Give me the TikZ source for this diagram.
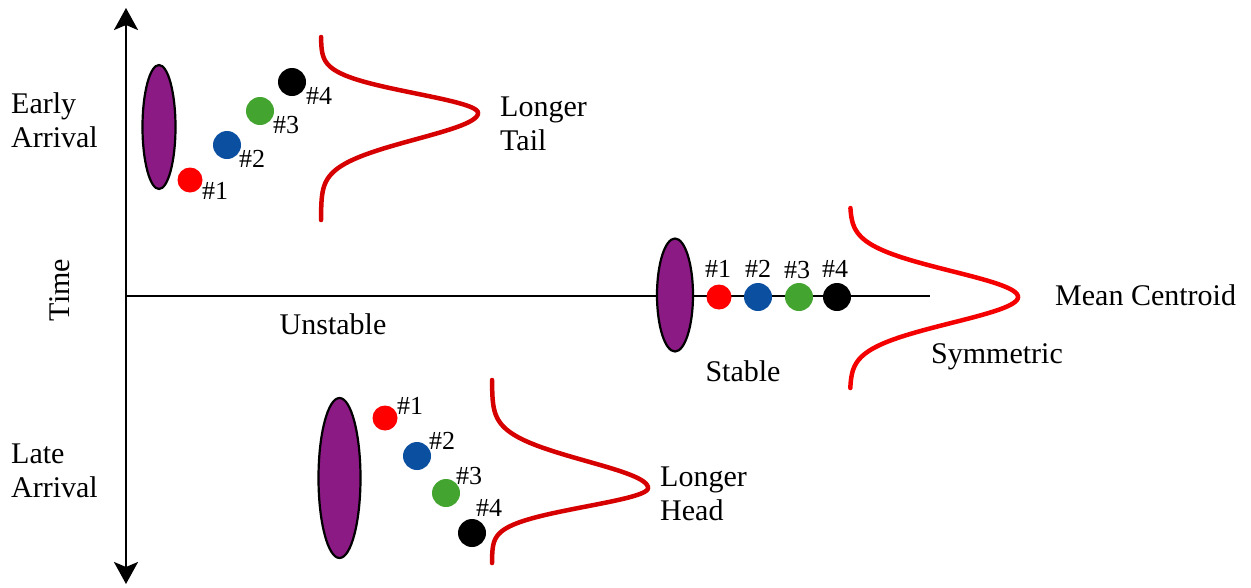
\documentclass[tikz,border=0pt]{standalone}
\usepackage{fontspec}
\setmainfont{Liberation Serif}
\usetikzlibrary{arrows.meta,shapes.geometric}
\definecolor{blobpurple}{HTML}{8B1A84}
\definecolor{dotred}{HTML}{FF0000}
\definecolor{dotblue}{HTML}{0B4FA0}
\definecolor{dotgreen}{HTML}{43A52F}
\definecolor{curvered}{HTML}{D60000}
\definecolor{curvebright}{HTML}{F50000}
\begin{document}
\begin{tikzpicture}[x=1pt,y=-1pt,
  lbl/.style={font=\fontsize{30}{34}\selectfont, align=left, inner sep=0pt},
  num/.style={font=\fontsize{26}{30}\selectfont, inner sep=0pt},
  dot/.style={circle, inner sep=0pt, minimum size=28pt, fill=#1},
  blob/.style={ellipse, draw=black, line width=2.2pt, fill=blobpurple, inner sep=0pt},
  axis/.style={line width=2.4pt},
  bell/.style={line width=4.5pt, line cap=round},
  axtip/.tip={Stealth[length=22pt,width=24pt,inset=5pt]}]
\useasboundingbox (0,0) rectangle (1251,587);

% time axis and the stable reference line
\coordinate (atop) at (126,8);
\coordinate (abot) at (126,584);
\coordinate (horg) at (126,296);
\coordinate (hend) at (930,296);
\draw[axis, axtip-axtip] (atop) -- (abot);
\draw[axis] (horg) -- (hend);

% side labels
\node[lbl, anchor=west] (early) at (11,120) {Early\\Arrival};
\node[lbl, anchor=west] (late) at (11,471) {Late\\Arrival};
\node[lbl, rotate=90] (time) at (60,290) {Time};

% early arrival group
\node[blob, minimum width=33pt, minimum height=124pt] (e1) at (159,127) {};
\node[dot=dotred, minimum size=25pt] (ea) at (190,180) {};
\node[dot=dotblue] (eb) at (227,145) {};
\node[dot=dotgreen] (ec) at (260,111) {};
\node[dot=black] (ed) at (292,82) {};
\node[num] (eal) at (215,191) {\#1};
\node[num] (ebl) at (252,159) {\#2};
\node[num] (ecl) at (286,125) {\#3};
\node[num] (edl) at (319,96) {\#4};
\draw[bell, curvered] plot[domain=37:113, samples=60, variable=\t] ({321+157*exp(-((\t-113)/27.5)^2)}, \t)
  -- plot[domain=113:220, samples=80, variable=\t] ({321+157*exp(-((\t-113)/37)^2)}, \t);
\node[lbl, anchor=west] (tail) at (500,124) {Longer\\Tail};

% stable group
\node[blob, minimum width=36pt, minimum height=113pt] (s1) at (675,295) {};
\node[dot=dotred, minimum size=25pt] (sa) at (719,297) {};
\node[dot=dotblue] (sb) at (758,297) {};
\node[dot=dotgreen] (sc) at (799,297) {};
\node[dot=black] (sd) at (837,297) {};
\node[num] (sal) at (718,269) {\#1};
\node[num] (sbl) at (758,269) {\#2};
\node[num] (scl) at (797,270) {\#3};
\node[num] (sdl) at (835,269) {\#4};
\draw[bell, curvebright] plot[domain=208:388, samples=120, variable=\t] ({850+168*exp(-((\t-297)/36.5)^2)}, \t);
\node[lbl, anchor=west] (mean) at (1055,295) {Mean Centroid};
\node[lbl] (sym) at (997,357) {Symmetric};
\node[lbl] (stable) at (743,371) {Stable};
\node[lbl] (unstable) at (333,324) {Unstable};

% late arrival group
\node[blob, minimum width=42pt, minimum height=160pt] (l1) at (339.5,478) {};
\node[dot=dotred, minimum size=25pt] (la) at (385,418) {};
\node[dot=dotblue] (lb) at (417,456) {};
\node[dot=dotgreen] (lc) at (446,493) {};
\node[dot=black] (ld) at (472,533) {};
\node[num] (lal) at (410,406) {\#1};
\node[num] (lbn) at (442,441) {\#2};
\node[num] (lcl) at (469,476) {\#3};
\node[num] (ldl) at (489,508) {\#4};
\draw[bell, curvered] plot[domain=380:488, samples=80, variable=\t] ({492+156*exp(-((\t-488)/38)^2)}, \t)
  -- plot[domain=488:563, samples=60, variable=\t] ({492+156*exp(-((\t-488)/26)^2)}, \t);
\node[lbl, anchor=west] (head) at (660,494) {Longer\\Head};
\end{tikzpicture}
\end{document}
